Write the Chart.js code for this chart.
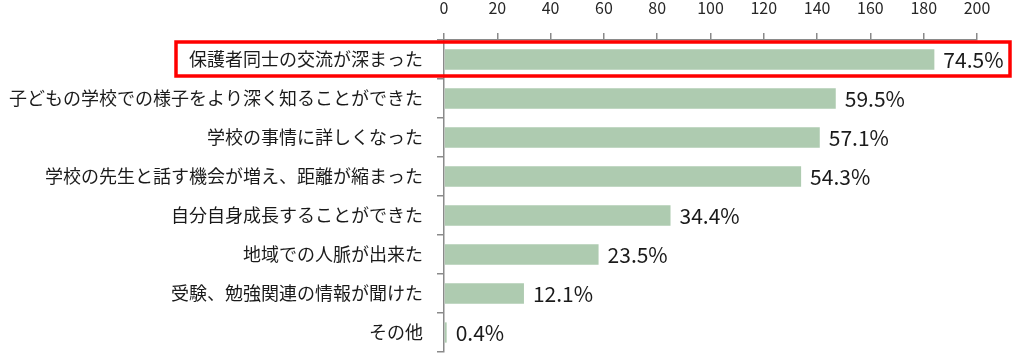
<!DOCTYPE html>
<html>
<head>
<meta charset="utf-8">
<script src="https://cdn.jsdelivr.net/npm/chart.js@4/dist/chart.umd.min.js"></script>
<style>
  html, body { margin: 0; padding: 0; background: #ffffff; }
  #wrap { width: 1021px; height: 361px; position: relative; }
</style>
</head>
<body>
<div id="wrap"><canvas id="c" width="1021" height="361"></canvas></div>
<script>
const categories = [
  "保護者同士の交流が深まった",
  "子どもの学校での様子をより深く知ることができた",
  "学校の事情に詳しくなった",
  "学校の先生と話す機会が増え、距離が縮まった",
  "自分自身成長することができた",
  "地域での人脈が出来た",
  "受験、勉強関連の情報が聞けた",
  "その他"
];
const counts = [184, 147, 141, 134, 85, 58, 30, 1];
const percentLabels = ["74.5%", "59.5%", "57.1%", "54.3%", "34.4%", "23.5%", "12.1%", "0.4%"];
const xTicks = [0, 20, 40, 60, 80, 100, 120, 140, 160, 180, 200];
const highlightIndex = 0;

const FONT = "'Noto Sans CJK JP', 'Noto Sans', sans-serif";
const AXIS_GRAY = '#8a8a8a';

const dataLabelPlugin = {
  id: 'dataLabels',
  afterDatasetsDraw(chart) {
    const ctx = chart.ctx;
    const meta = chart.getDatasetMeta(0);
    ctx.save();
    ctx.font = "21px " + FONT;
    ctx.fillStyle = '#1a1a1a';
    ctx.textAlign = 'left';
    ctx.textBaseline = 'middle';
    meta.data.forEach((bar, i) => {
      ctx.fillText(percentLabels[i], bar.x + 9, bar.y + 1);
    });
    ctx.restore();
  }
};

const highlightPlugin = {
  id: 'highlight',
  afterDraw(chart) {
    const ctx = chart.ctx;
    const y = chart.scales.y;
    const cy = y.getPixelForValue(highlightIndex);
    ctx.save();
    ctx.font = "18px " + FONT;
    const w = ctx.measureText(categories[highlightIndex]).width;
    const labelRight = y.right - 7 - 14;
    const left = labelRight - w - 13;
    const right = chart.width - 11;
    ctx.strokeStyle = '#ff0000';
    ctx.lineWidth = 3.5;
    ctx.strokeRect(left, cy - 17.5, right - left, 34);
    ctx.restore();
  }
};

new Chart(document.getElementById('c'), {
  type: 'bar',
  data: {
    labels: categories,
    datasets: [{
      data: counts,
      backgroundColor: '#aecbb0',
      borderWidth: 0,
      barPercentage: 0.52,
      categoryPercentage: 1.0
    }]
  },
  options: {
    indexAxis: 'y',
    responsive: false,
    animation: false,
    devicePixelRatio: 1,
    layout: { padding: { top: 2, right: 44, bottom: 9, left: 8 } },
    plugins: {
      legend: { display: false },
      tooltip: { enabled: false }
    },
    scales: {
      x: {
        position: 'top',
        min: 0,
        max: 200,
        afterBuildTicks(scale) { scale.ticks = xTicks.map(v => ({ value: v })); },
        afterFit(scale) { scale.height = 38; scale.paddingLeft = 0; },
        ticks: {
          font: { family: FONT, size: 16 },
          color: '#262626',
          padding: 15
        },
        grid: {
          drawOnChartArea: false,
          drawTicks: true,
          tickLength: 7,
          color: AXIS_GRAY,
          lineWidth: 1.5
        },
        border: { display: true, color: AXIS_GRAY, width: 1.5 }
      },
      y: {
        afterFit(scale) { scale.width = 436; scale.paddingTop = 0; scale.paddingBottom = 0; },
        ticks: {
          font: { family: FONT, size: 18 },
          color: '#1a1a1a',
          padding: 14
        },
        grid: {
          drawOnChartArea: false,
          drawTicks: true,
          tickLength: 7,
          offset: true,
          color: AXIS_GRAY,
          lineWidth: 1.5
        },
        border: { display: true, color: AXIS_GRAY, width: 1.5 }
      }
    }
  },
  plugins: [dataLabelPlugin, highlightPlugin]
});
</script>
</body>
</html>
